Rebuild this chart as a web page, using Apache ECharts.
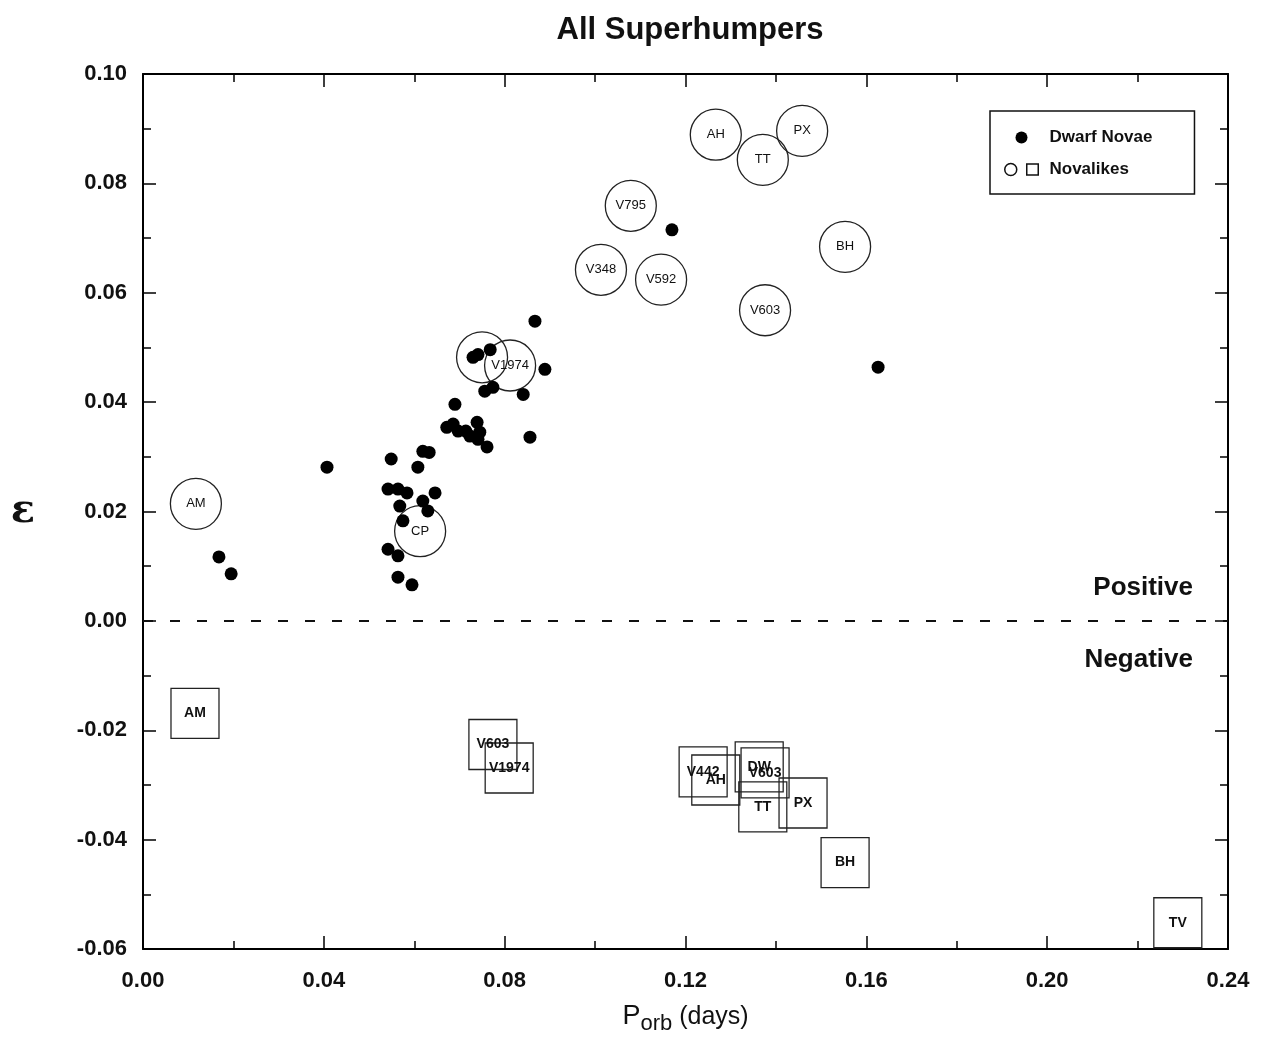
<!DOCTYPE html>
<html>
<head>
<meta charset="utf-8">
<script src="https://cdn.jsdelivr.net/npm/echarts@6/dist/echarts.min.js"></script>
<style>
  html, body { margin: 0; padding: 0; background: #fff; }
  #chart { width: 1268px; height: 1038px; }
</style>
</head>
<body>
<div id="chart"></div>
<script>
// dwarf novae (filled dots)
var dnPorb = [0.0168, 0.0195, 0.0407, 0.0549, 0.0542, 0.0564, 0.0584, 0.0568, 0.0575, 0.0542,
              0.0564, 0.0564, 0.0595, 0.0608, 0.0619, 0.0633, 0.0619, 0.0646, 0.0630, 0.0690,
              0.0672, 0.0686, 0.0697, 0.0714, 0.0723, 0.0739, 0.0745, 0.0741, 0.0761, 0.0730,
              0.0741, 0.0768, 0.0756, 0.0774, 0.0841, 0.0856, 0.0867, 0.0889, 0.1170, 0.1626];
var dnEps  = [0.0117, 0.0086, 0.0281, 0.0296, 0.0241, 0.0241, 0.0234, 0.0210, 0.0183, 0.0131,
              0.0119, 0.0080, 0.0066, 0.0281, 0.0310, 0.0308, 0.0219, 0.0234, 0.0201, 0.0396,
              0.0354, 0.0360, 0.0347, 0.0347, 0.0338, 0.0363, 0.0345, 0.0332, 0.0318, 0.0482,
              0.0487, 0.0496, 0.0420, 0.0427, 0.0414, 0.0336, 0.0548, 0.0460, 0.0715, 0.0464];

// novalikes, positive superhumps (circles)
var posNames = ['AM', 'CP', '', 'V1974', 'V348', 'V592', 'V795', 'AH', 'TT', 'PX', 'BH', 'V603'];
var posPorb  = [0.0117, 0.0613, 0.0750, 0.0812, 0.1013, 0.1146, 0.1079, 0.1267, 0.1371, 0.1458, 0.1553, 0.1376];
var posEps   = [0.0214, 0.0164, 0.0482, 0.0467, 0.0642, 0.0624, 0.0759, 0.0889, 0.0843, 0.0896, 0.0684, 0.0568];

// novalikes, negative superhumps (squares)
var negNames = ['AM', 'V603', 'V1974', 'V442', 'AH', 'DW', 'V603', 'TT', 'PX', 'BH', 'TV'];
var negPorb  = [0.0115, 0.0774, 0.0810, 0.1239, 0.1267, 0.1363, 0.1376, 0.1371, 0.1460, 0.1553, 0.2289];
var negEps   = [-0.0169, -0.0226, -0.0269, -0.0276, -0.0291, -0.0267, -0.0278, -0.0340, -0.0333, -0.0442, -0.0552];

var xTicks = [0, 0.24, 0.04];
var yTicks = [-0.06, 0.10, 0.02];

function pairs(xs, ys, names) {
    var out = [];
    for (var i = 0; i < xs.length; i++) {
        var d = {value: [xs[i], ys[i]]};
        if (names) d.name = names[i];
        out.push(d);
    }
    return out;
}

function fmt(v) {
    if (Math.abs(v) < 1e-9) return '0.00';
    return v.toFixed(2);
}

var font = 'Liberation Sans, Arial, sans-serif';
var ringPath = 'path://M0,6 A6,6 0 1,1 12,6 A6,6 0 1,1 0,6 Z M22,0.5 L33.5,0.5 L33.5,11.5 L22,11.5 Z';

var myChart = echarts.init(document.getElementById('chart'));

function axisCommon(showLabel, margin) {
    return {
        axisLine: {show: true, onZero: false, lineStyle: {color: '#000', width: 2}},
        axisTick: {show: true, inside: true, length: 13, lineStyle: {color: '#000', width: 1.5}},
        minorTick: {show: true, splitNumber: 2, length: 8, lineStyle: {color: '#000', width: 1.5}},
        splitLine: {show: false},
        axisLabel: {
            show: showLabel, formatter: fmt, margin: margin || 16,
            fontFamily: font, fontSize: 22, fontWeight: 'bold', color: '#111'
        }
    };
}

var xBottom = echarts.util.merge({
    type: 'value', position: 'bottom', min: xTicks[0], max: xTicks[1], interval: xTicks[2],
    name: '{p|P}{s|orb}{d| (days)}', nameLocation: 'middle', nameGap: 50,
    nameTextStyle: {
        fontFamily: font, color: '#111',
        rich: {
            p: {fontSize: 27, fontFamily: font, color: '#111'},
            s: {fontSize: 22, fontFamily: font, color: '#111', padding: [14, 0, 0, 0]},
            d: {fontSize: 25, fontFamily: font, color: '#111'}
        }
    }
}, axisCommon(true, 21), true);
var xTop = echarts.util.merge({
    type: 'value', position: 'top', min: xTicks[0], max: xTicks[1], interval: xTicks[2]
}, axisCommon(false), true);
var yLeft = echarts.util.merge({
    type: 'value', position: 'left', min: yTicks[0], max: yTicks[1], interval: yTicks[2],
    name: 'ε', nameLocation: 'middle', nameRotate: 0, nameGap: 108,
    nameTextStyle: {fontFamily: 'DejaVu Serif, serif', fontSize: 40, fontWeight: 'bold', color: '#111',
                    padding: [0, 0, 8, 0]}
}, axisCommon(true, 16), true);
var yRight = echarts.util.merge({
    type: 'value', position: 'right', min: yTicks[0], max: yTicks[1], interval: yTicks[2]
}, axisCommon(false), true);

option = {
    backgroundColor: '#fff',
    animation: false,
    title: {
        text: 'All Superhumpers',
        left: 685, top: 10, textAlign: 'center',
        textStyle: {fontFamily: font, fontSize: 31, fontWeight: 'bold', color: '#111'}
    },
    grid: {left: 143, right: 40, top: 74, bottom: 89, containLabel: false, outerBoundsMode: 'none'},
    legend: {
        orient: 'vertical',
        left: 990, top: 111,
        padding: [18, 42, 16, 14],
        itemGap: 15,
        itemWidth: 34, itemHeight: 12,
        borderColor: '#111', borderWidth: 1.5,
        textStyle: {fontFamily: font, fontSize: 17, fontWeight: 'bold', color: '#111', padding: [0, 0, 0, 6]},
        data: [
            {name: 'Dwarf Novae', icon: 'circle'},
            {name: 'Novalikes', icon: ringPath,
             itemStyle: {color: 'rgba(0,0,0,0)', borderColor: '#111', borderWidth: 1.5}}
        ]
    },
    xAxis: [xBottom, xTop],
    yAxis: [yLeft, yRight],
    graphic: [
        {type: 'text', right: 75, top: 575,
         style: {text: 'Positive', font: 'bold 26px ' + font, fill: '#111'}},
        {type: 'text', right: 75, top: 647,
         style: {text: 'Negative', font: 'bold 26px ' + font, fill: '#111'}}
    ],
    series: [
        {
            name: 'Novalikes', type: 'scatter', symbol: 'circle', symbolSize: 51,
            data: pairs(posPorb, posEps, posNames),
            itemStyle: {color: 'rgba(0,0,0,0)', borderColor: '#222', borderWidth: 1.3, opacity: 1},
            label: {show: true, position: 'inside', formatter: '{b}',
                    fontFamily: font, fontSize: 13, color: '#111'},
            z: 2
        },
        {
            name: 'Novalikes', type: 'scatter', symbol: 'rect', symbolSize: [48, 50],
            data: pairs(negPorb, negEps, negNames),
            itemStyle: {color: 'rgba(0,0,0,0)', borderColor: '#222', borderWidth: 1.3, opacity: 1},
            label: {show: true, position: 'inside', formatter: '{b}',
                    fontFamily: font, fontSize: 14, fontWeight: 'bold', color: '#111'},
            z: 2
        },
        {
            name: 'Dwarf Novae', type: 'scatter', symbol: 'circle', symbolSize: 13,
            data: pairs(dnPorb, dnEps),
            itemStyle: {color: '#000', opacity: 1},
            z: 3,
            markLine: {
                silent: true, symbol: 'none', label: {show: false},
                lineStyle: {color: '#111', width: 2, type: [10, 17]},
                data: [{yAxis: 0}]
            }
        }
    ]
};
myChart.setOption(option);
</script>
</body>
</html>
